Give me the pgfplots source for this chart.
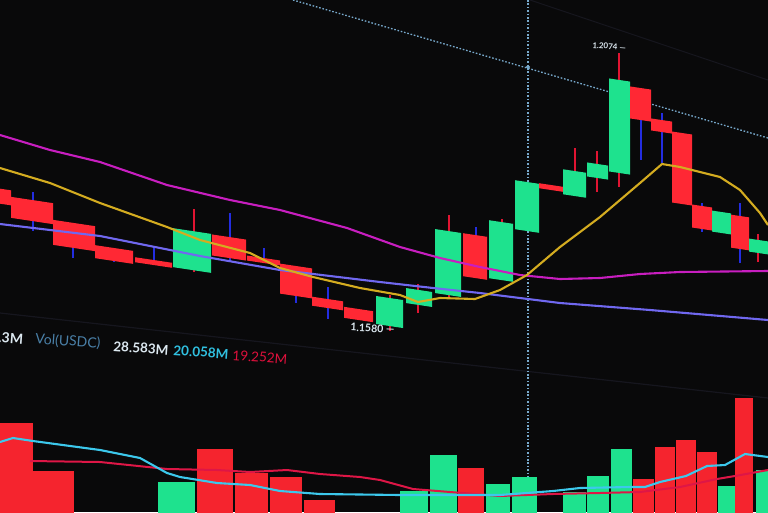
\documentclass[border=0pt]{standalone}
\usepackage{pgfplots}
\pgfplotsset{compat=1.18}
\usepackage{fontspec}
\setmainfont{Lato}
\definecolor{bg}{RGB}{9,9,10}
\definecolor{cgreen}{RGB}{30,226,142}
\definecolor{cred}{RGB}{255,40,52}
\definecolor{vred}{RGB}{245,36,46}
\definecolor{wblue}{RGB}{35,45,225}
\definecolor{wred}{RGB}{225,20,50}
\definecolor{maY}{RGB}{212,172,32}
\definecolor{maM}{RGB}{200,30,192}
\definecolor{maP}{RGB}{112,104,240}
\definecolor{vcyan}{RGB}{60,200,236}
\definecolor{vline}{RGB}{222,22,70}
\definecolor{crossc}{RGB}{120,170,205}
\definecolor{faint}{RGB}{22,22,30}
\definecolor{tvol}{RGB}{74,128,168}
\definecolor{twhite}{RGB}{220,232,240}
\definecolor{tcyan}{RGB}{48,192,224}
\definecolor{tred}{RGB}{224,16,60}
\newcommand{\sk}{0.15}
% candle: left, right, top, bottom, wick x, wick top, wick bottom, body colour, wick colour
\newcommand{\candle}[9]{%
  \pgfmathsetmacro\cTL{#3-\sk*(#2-#1)/2}%
  \pgfmathsetmacro\cTR{#3+\sk*(#2-#1)/2}%
  \pgfmathsetmacro\cBL{#4-\sk*(#2-#1)/2}%
  \pgfmathsetmacro\cBR{#4+\sk*(#2-#1)/2}%
  \addplot[draw=#9, line width=1.9pt] coordinates {(#5,#6) (#5,#7)};
  \addplot[fill=#8, draw=none] coordinates {(#1,\cTL) (#2,\cTR) (#2,\cBR) (#1,\cBL)};
}
% volume bar: left, right, top, colour
\newcommand{\vbar}[4]{%
  \addplot[fill=#4, draw=none] coordinates {(#1,520) (#1,#3) (#2,#3) (#2,520)};
}
\begin{document}
\begin{tikzpicture}
\begin{axis}[
  scale only axis, width=768pt, height=512pt,
  xmin=0, xmax=768, ymin=0, ymax=512, y dir=reverse,
  axis line style={draw=none}, xtick=\empty, ytick=\empty,
  axis background/.style={fill=bg},
  clip=true,
]
% faint grid lines
\addplot[faint, line width=1.2pt] coordinates {(0,313) (768,398)};
\addplot[faint, line width=1pt] coordinates {(530,0) (768,80)};
% crosshair
\addplot[crossc, line width=1.3pt, dash pattern=on 1.6pt off 1.8pt] coordinates {(528,0) (528,512)};
\addplot[crossc, line width=1.3pt, dash pattern=on 1.6pt off 1.8pt] coordinates {(293,0) (768,138)};
\addplot[crossc, only marks, mark=*, mark size=1.8pt] coordinates {(528,67)};
% candles
\candle{-20}{11}{188}{203}{5}{188}{188}{cred}{wblue}
\candle{11}{53}{200}{221}{33}{192}{231}{cred}{wblue}
\candle{53}{95}{223}{248}{73}{223}{258}{cred}{wblue}
\candle{95}{133}{248}{261}{114}{248}{262}{cred}{wblue}
\candle{135}{172}{260}{265}{154}{247}{265}{cred}{wblue}
\candle{173}{211}{231}{270}{194}{209}{272}{cgreen}{wred}
\candle{212}{246}{237}{258}{230}{213}{262}{cred}{wblue}
\candle{247}{280}{258}{263}{264}{248}{263}{cred}{wblue}
\candle{280}{312}{266}{296}{296}{266}{303}{cred}{wblue}
\candle{312}{343}{299}{308}{328}{287}{319}{cred}{wblue}
\candle{344}{373}{309}{320}{359}{309}{320}{cred}{wblue}
\candle{376}{403}{298}{326}{390}{295}{331}{cgreen}{wred}
\candle{406}{432}{290}{305}{418}{284}{313}{cgreen}{wred}
\candle{435}{461}{231}{295}{449}{215}{298}{cgreen}{wred}
\candle{463}{487}{235}{278}{476}{227}{278}{cred}{wblue}
\candle{489}{513}{222}{280}{502}{219}{280}{cgreen}{wred}
\candle{515}{539}{182}{231}{527}{182}{182}{cgreen}{wred}
\candle{539}{563}{185}{190}{551}{185}{185}{cred}{wblue}
\candle{563}{586}{171}{196}{575}{148}{196}{cgreen}{wred}
\candle{587}{608}{164}{178}{597}{151}{192}{cgreen}{wred}
\candle{609}{630}{80}{173}{619}{53}{187}{cgreen}{wred}
\candle{630}{651}{88}{120}{641}{88}{160}{cred}{wblue}
\candle{651}{672}{120}{132}{662}{113}{163}{cred}{wblue}
\candle{672}{692}{133}{204}{682}{133}{204}{cred}{wblue}
\candle{692}{712}{206}{229}{702}{203}{232}{cred}{wblue}
\candle{712}{731}{212}{233}{721}{212}{212}{cgreen}{wred}
\candle{731}{749}{216}{249}{740}{203}{263}{cred}{wblue}
\candle{749}{768}{240}{253}{758}{234}{262}{cgreen}{wred}
% moving averages
\addplot[maM, line width=2.1pt] coordinates {(0,135) (50,150) (100,162) (167,185) (230,200) (280,210) (347,228) (400,247) (440,258) (480,267) (520,275) (560,279) (600,278) (640,274) (680,272) (768,271)};
\addplot[maP, line width=2.1pt] coordinates {(0,224) (100,236) (200,256) (280,270) (380,282) (433,288) (480,293) (560,303) (650,310) (768,320)};
\addplot[maY, line width=2.1pt] coordinates {(0,168) (50,183) (100,203) (167,227) (200,240) (250,253) (280,268) (313,277) (360,288) (400,295) (418,302) (440,298) (475,299) (500,290) (527,275) (560,247) (600,217) (640,183) (662,164) (680,167) (720,177) (740,190) (760,213) (768,225)};
% price labels
\node[anchor=west, text=twhite, font=\fontsize{8}{9}\selectfont\bfseries, rotate=-4] at (axis cs:589,45) {1.2074 —};
\node[anchor=west, text=twhite, font=\fontsize{10.5}{12}\selectfont\bfseries, rotate=-3] at (axis cs:347,327) {1.1580 —};
% volume legend
\node[anchor=west, text=twhite, font=\fontsize{14}{16}\selectfont\bfseries, rotate=-4] at (axis cs:-5,337) {.3M};
\node[anchor=west, text=tvol, font=\fontsize{14}{16}\selectfont, rotate=-4] at (axis cs:32,339) {Vol(USDC)};
\node[anchor=west, text=twhite, font=\fontsize{13.5}{16}\selectfont\bfseries, rotate=-4] at (axis cs:110,346) {28.583M};
\node[anchor=west, text=tcyan, font=\fontsize{13.5}{16}\selectfont\bfseries, rotate=-4] at (axis cs:170,350) {20.058M};
\node[anchor=west, text=tred, font=\fontsize{13.5}{16}\selectfont, rotate=-4] at (axis cs:229,355) {19.252M};
% volume bars
\vbar{-5}{33}{423}{vred}
\vbar{30}{74}{471}{vred}
\vbar{158}{195}{482}{cgreen}
\vbar{197}{233}{449}{vred}
\vbar{235}{268}{473}{vred}
\vbar{270}{302}{477}{vred}
\vbar{304}{335}{500}{vred}
\vbar{400}{428}{491}{cgreen}
\vbar{430}{457}{455}{cgreen}
\vbar{458}{484}{468}{vred}
\vbar{486}{510}{484}{cgreen}
\vbar{512}{537}{477}{cgreen}
\vbar{563}{586}{492}{cgreen}
\vbar{587}{609}{476}{cgreen}
\vbar{611}{632}{449}{cgreen}
\vbar{633}{654}{479}{vred}
\vbar{655}{675}{447}{vred}
\vbar{676}{696}{440}{vred}
\vbar{697}{717}{452}{vred}
\vbar{718}{737}{486}{cgreen}
\vbar{735}{753}{398}{vred}
\vbar{756}{775}{470}{cgreen}
% volume averages
\addplot[vline, line width=2pt] coordinates {(30,461) (100,462) (167,469) (217,470) (250,472) (287,470) (320,474) (360,477) (380,480) (413,489) (450,492) (500,496) (553,494) (600,493) (640,492) (680,487) (717,479) (735,476) (768,470)};
\addplot[vcyan, line width=2.1pt] coordinates {(0,442) (13,438) (33,441) (100,450) (140,458) (167,473) (180,477) (217,483) (250,485) (280,491) (320,494) (400,495) (500,495) (553,491) (580,488) (630,487) (645,487) (660,482) (686,476) (707,466) (725,465) (745,454) (768,457)};
\end{axis}
\end{tikzpicture}
\end{document}
